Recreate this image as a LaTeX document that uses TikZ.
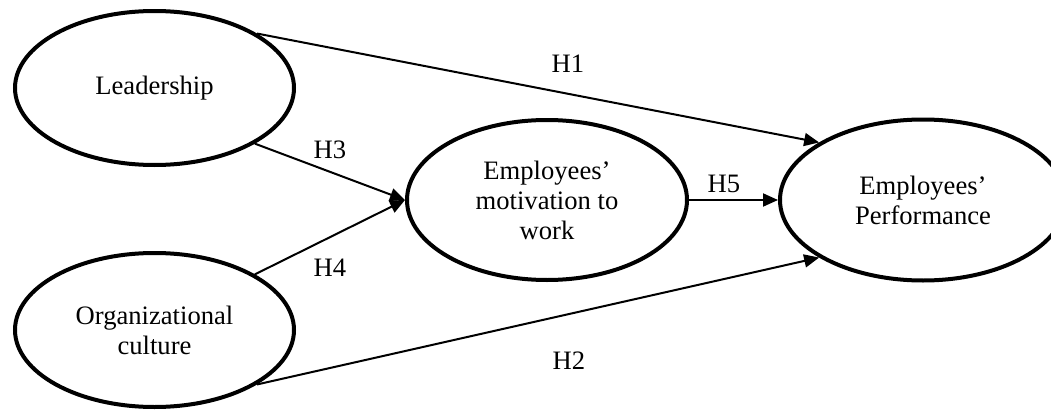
\documentclass[tikz,border=0pt]{standalone}
\usepackage{fontspec}
\setmainfont{Liberation Serif}
\usetikzlibrary{shapes.geometric,arrows.meta}

\begin{document}
\begin{tikzpicture}[x=0.5pt,y=-0.5pt,font=\fontsize{13.3}{15}\selectfont]

      \useasboundingbox (0,0) rectangle (1051,412);

      \begin{scope}[every node/.style={ellipse,draw,line width=2pt,inner sep=0pt,align=center}]
        \node[minimum width=139.5pt,minimum height=77pt] (lead) at (154.5,88)  {Leadership};
        \node[minimum width=139.5pt,minimum height=77pt] (org)  at (154.5,330) {Organizational\\culture};
        \node[minimum width=140pt,minimum height=80pt]   (mot)  at (547,200)   {Employees'\\motivation to\\work};
        \node[minimum width=143pt,minimum height=80.5pt] (perf) at (923,200)   {Employees'\\Performance};
      \end{scope}

      \begin{scope}[every node/.style={inner sep=0pt}]
        \node (h1) at (568,64)  {H1};
        \node (h3) at (330,150) {H3};
        \node (h4) at (330,268) {H4};
        \node (h5) at (724,184) {H5};
        \node (h2) at (569,361) {H2};
      \end{scope}

      \begin{scope}[every edge/.style={draw,line width=1pt,-{Triangle[length=7.5pt,width=6.5pt]}}]
        \path (lead.28)  edge (perf.151);
        \path (lead.331) edge (mot.west);
        \path (org.29)   edge (mot.west);
        \path (mot.east) edge (perf.west);
        \path (org.332)  edge (perf.209);
      \end{scope}

    \end{tikzpicture}
\end{document}
